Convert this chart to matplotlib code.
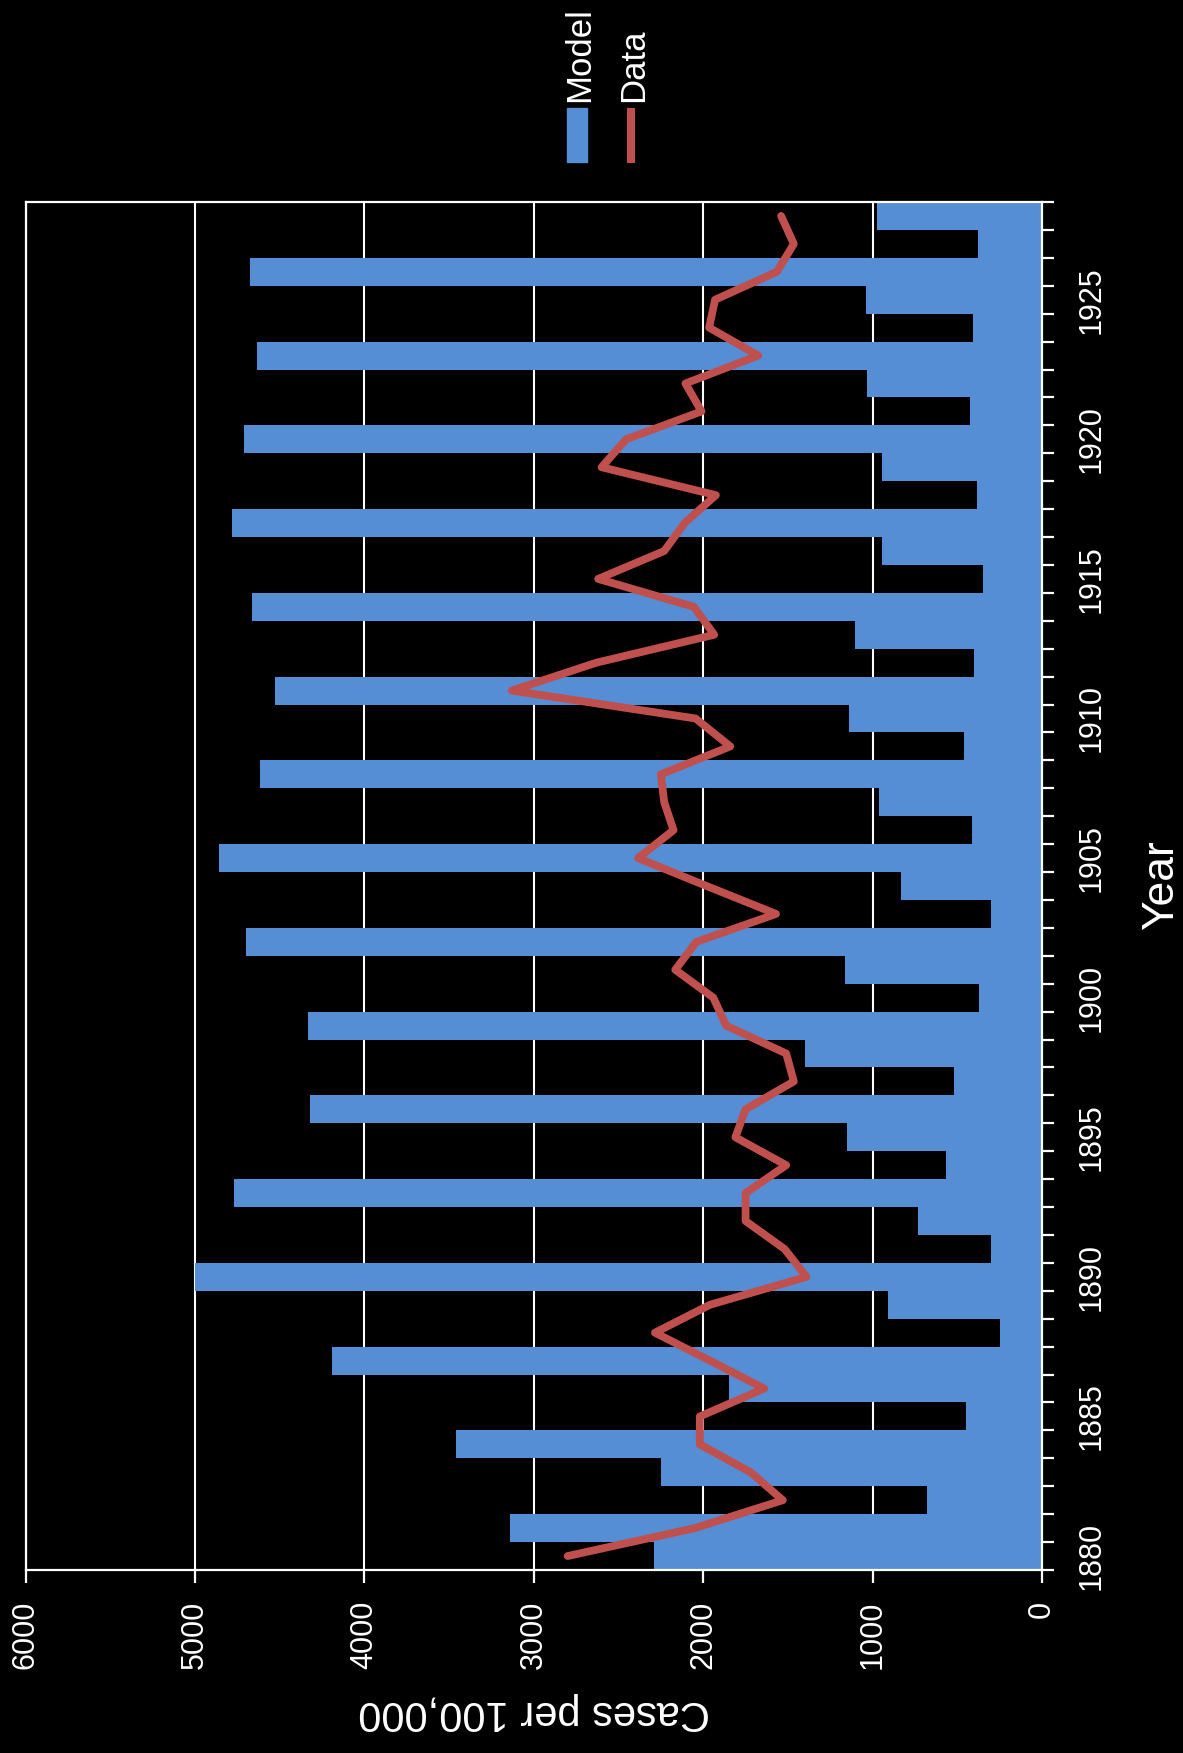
import numpy as np
import matplotlib
matplotlib.use("Agg")
import matplotlib.pyplot as plt
from matplotlib.patches import Rectangle
from matplotlib.lines import Line2D

plt.rcParams['font.family'] = ['Liberation Sans', 'DejaVu Sans']

# Annual cases per 100,000: model output and observed data, 1880-1928
years = list(range(1880, 1929))
model = [2290, 3140, 680, 2250, 3460, 450, 1850, 4190, 250, 910,
         5000, 300, 730, 4770, 565, 1150, 4320, 520, 1400, 4330,
         370, 1165, 4700, 300, 835, 4860, 415, 965, 4615, 460,
         1140, 4530, 400, 1105, 4665, 350, 945, 4780, 385, 945,
         4710, 425, 1035, 4635, 405, 1040, 4675, 380, 975]
data = [2800, 2050, 1530, 1720, 2020, 2020, 1640, 1960, 2285, 1960,
        1390, 1520, 1750, 1750, 1510, 1810, 1750, 1465, 1510, 1865,
        1940, 2165, 2040, 1570, 1980, 2385, 2175, 2230, 2250, 1840,
        2045, 3130, 2630, 1935, 2055, 2620, 2230, 2110, 1925, 2600,
        2455, 2010, 2105, 1675, 1965, 1930, 1565, 1465, 1540]
value_ticks = [0, 1000, 2000, 3000, 4000, 5000, 6000]
year_labels = list(range(1880, 1930, 5))
series_names = ["Model", "Data"]

BLUE = "#558ED5"
RED = "#C0504D"
W, H = 1183, 1753

fig = plt.figure(figsize=(W / 100, H / 100), dpi=100, facecolor="black")
left, right, top, bottom = 25.6, 1042, 202, 1570
ax = fig.add_axes([left / W, 1 - bottom / H, (right - left) / W, (bottom - top) / H])
ax.set_facecolor("black")

ax.barh(years, model, height=1.0, color=BLUE, zorder=2)
ax.plot(data, years, color=RED, lw=5.6, zorder=3,
        solid_joinstyle="round", solid_capstyle="round")

ax.set_xlim(6000, 0)
ax.set_ylim(years[0] - 0.5, years[-1] + 0.5)

# value axis (drawn along the bottom)
ax.set_xticks(value_ticks)
ax.set_xticklabels([str(v) for v in value_ticks], rotation=90,
                   ha="center", va="top", fontsize=22, color="white")
ax.tick_params(axis="x", colors="white", length=9, width=1.6, pad=13)
ax.xaxis.grid(True, color="white", lw=1.5, zorder=0)
ax.set_axisbelow(True)

# category axis (drawn along the right side)
ax.yaxis.tick_right()
ax.set_yticks(np.arange(years[0] - 0.5, years[-1] + 1.0, 1.0))
ax.set_yticklabels([])
ax.tick_params(axis="y", which="major", colors="white", length=8.5, width=1.6)
ax.set_yticks(year_labels, minor=True)
ax.set_yticklabels([str(y) for y in year_labels], minor=True, rotation=90,
                   va="center", ha="left", fontsize=22, color="white")
ax.tick_params(axis="y", which="minor", length=0, pad=25, colors="white")

for s in ax.spines.values():
    s.set_color("white")
    s.set_linewidth(1.6)

fig.text(534 / W, 1 - 1712 / H, "Cases per 100,000", rotation=180,
         ha="center", va="center", fontsize=30, color="white")
fig.text(1162 / W, 1 - 885 / H, "Year", rotation=90,
         ha="center", va="center", fontsize=32, color="white")

# legend
fig.patches.append(Rectangle((567 / W, 1 - 162 / H), 20 / W, 54 / H,
                             transform=fig.transFigure, color=BLUE))
fig.lines.append(Line2D([631 / W, 631 / W], [1 - 108 / H, 1 - 163 / H],
                        transform=fig.transFigure, color=RED, lw=5.8,
                        solid_capstyle="butt"))
fig.text(580 / W, 1 - 102 / H, series_names[0], rotation=90,
         ha="center", va="bottom", fontsize=25, color="white")
fig.text(634 / W, 1 - 102 / H, series_names[1], rotation=90,
         ha="center", va="bottom", fontsize=25, color="white")

fig.savefig("out.png", dpi=100, facecolor="black")
